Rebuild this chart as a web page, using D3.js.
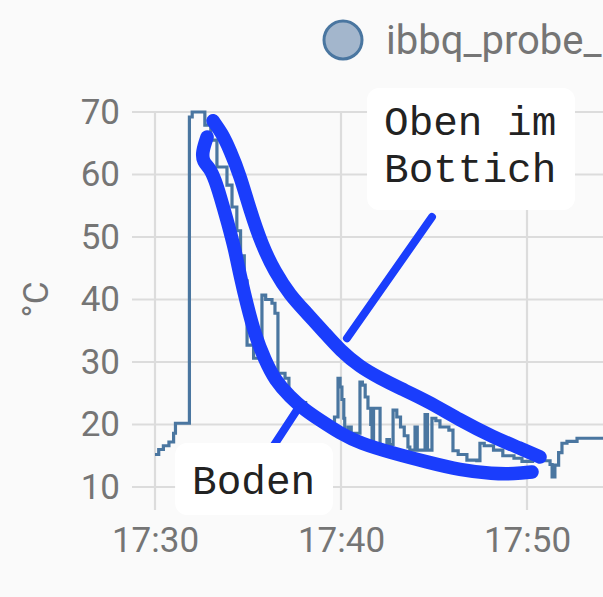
<!DOCTYPE html>
<html>
<head>
<meta charset="utf-8">
<script src="https://cdn.jsdelivr.net/npm/d3@7"></script>
<style>
  html, body { margin: 0; padding: 0; background: #fafafa; overflow: hidden; }
  svg { display: block; }
</style>
</head>
<body>
<script>
// ---------- DATA ----------
const seriesName = "ibbq_probe_";
// minutes after 17:30
const minutes = [0.0, 0.2, 0.45, 0.75, 1.0, 1.1, 1.85, 2.0, 2.68, 3.0, 3.33, 3.87, 4.14, 4.4, 4.6, 4.8, 4.95, 5.3,
  5.75, 5.95, 6.29, 6.45, 6.61, 6.99, 7.2, 7.6, 8.1, 8.6, 9.0, 9.41, 9.65, 9.84, 9.95, 10.05, 10.15, 10.2, 10.38, 10.55,
  11.02, 11.15, 11.3, 11.45, 11.6, 11.67, 11.75, 12.1, 12.47, 12.6, 12.8, 13.0, 13.2, 13.4, 13.6, 13.7, 13.98, 14.1,
  14.52, 14.65, 14.89, 15.1, 15.32, 15.8, 16.02, 16.3, 16.77, 17.3, 17.47, 17.7, 18.2, 18.7, 19.3, 19.73, 20.3, 20.7,
  21.24, 21.35, 21.5, 21.7, 21.88, 22.15, 22.69, 24.5];
const temps = [15.2, 16.0, 16.6, 17.2, 18.6, 20.2, 69.2, 70.0, 67.9, 65.5, 61.2, 58.3, 54.8, 51.0, 47.0, 43.0, 32.7, 30.6,
  40.7, 40.0, 39.4, 37.8, 28.2, 27.4, 24.4, 23.5, 22.0, 21.0, 20.2, 19.6, 21.2, 27.4, 26.0, 24.0, 21.0, 18.6, 19.6, 18.6,
  26.8, 26.3, 24.4, 22.6, 20.0, 17.0, 22.6, 16.4, 17.6, 16.8, 22.3, 21.2, 19.6, 18.2, 16.4, 15.9, 19.6, 15.9,
  21.6, 15.9, 21.0, 20.6, 19.6, 19.1, 15.8, 15.2, 14.3, 14.2, 17.0, 16.6, 15.9, 15.0, 14.6, 14.1, 14.3, 14.2,
  13.6, 11.6, 13.5, 15.5, 17.0, 17.3, 17.8, 17.8];
const yTicks = [10, 20, 30, 40, 50, 60, 70];
const xTickMinutes = [0, 10, 20];
const yLabel = "°C";

// hand-drawn annotation strokes (minutes, °C)
const strokeTopM = [3.12, 3.60, 4.03, 4.57, 5.11, 5.75, 6.45, 7.26, 8.17, 9.14, 9.95, 11.02, 12.10, 13.17, 14.62, 16.40, 18.17, 19.62, 20.70];
const strokeTopT = [68.6, 66.6, 63.9, 59.9, 54.3, 48.7, 44.4, 40.7, 37.8, 34.6, 31.9, 29.2, 27.4, 25.8, 23.8, 20.7, 18.0, 16.2, 14.8];
const strokeBotM = [2.80, 2.53, 2.58, 2.96, 3.23, 3.49, 3.92, 4.30, 4.57, 4.95, 5.38, 5.91, 6.45, 7.26, 8.06, 8.87, 9.95, 11.02, 12.80, 14.62, 16.40, 18.17, 19.35, 20.27];
const strokeBotT = [66.0, 63.6, 62.0, 61.0, 59.1, 56.7, 52.2, 47.9, 43.9, 39.1, 34.3, 30.3, 27.1, 24.4, 22.3, 20.7, 18.6, 17.0, 15.4, 14.0, 12.7, 12.1, 12.1, 12.4];
const pointerTopM = [14.89, 10.32];
const pointerTopT = [53.2, 33.8];
const pointerBotM = [7.63, 6.29];
const pointerBotT = [22.3, 16.2];
// annotation labels: box corners in (minutes, °C)
const labelTopLines = ["Oben im", "Bottich"];
const labelTopBox = [11.40, 22.58, 73.84, 54.32];
const labelBotLines = ["Boden"];
const labelBotBox = [1.08, 9.57, 17.04, 5.52];

// ---------- LAYOUT ----------
const W = 603, H = 597;
const plotLeft = 155, plotTop = 112, plotBottom = 487;
const pxPerTenMin = 186;
const baseTime = new Date(2021, 0, 1, 17, 30, 0);
const toDate = m => new Date(baseTime.getTime() + m * 60000);

const x = d3.scaleTime()
  .domain([toDate(0), toDate(10)])
  .range([plotLeft, plotLeft + pxPerTenMin]);
const y = d3.scaleLinear().domain([10, 70]).range([plotBottom, plotTop]);

const svg = d3.select("body").append("svg").attr("width", W).attr("height", H);
svg.append("rect").attr("width", W).attr("height", H).attr("fill", "#fafafa");

const gridColor = "#dcdcdc";
const textColor = "#757575";
const font = "Roboto, 'Noto Sans', sans-serif";

// gridlines
svg.append("g").selectAll("line").data(yTicks).join("line")
  .attr("x1", plotLeft - 23).attr("x2", W)
  .attr("y1", d => y(d)).attr("y2", d => y(d))
  .attr("stroke", gridColor).attr("stroke-width", 2.2);
svg.append("g").selectAll("line").data(xTickMinutes).join("line")
  .attr("x1", d => x(toDate(d))).attr("x2", d => x(toDate(d)))
  .attr("y1", plotTop).attr("y2", plotBottom + 23)
  .attr("stroke", gridColor).attr("stroke-width", 2.2);

// axes (labels)
const yAxis = svg.append("g").attr("transform", `translate(${plotLeft},0)`)
  .call(d3.axisLeft(y).tickValues(yTicks).tickSize(0).tickPadding(35));
yAxis.select(".domain").remove();
yAxis.selectAll("text").attr("font-family", font).attr("font-size", 35).attr("fill", textColor);

const xAxis = svg.append("g").attr("transform", `translate(0,${plotBottom})`)
  .call(d3.axisBottom(x).tickValues(xTickMinutes.map(toDate)).tickFormat(d3.timeFormat("%H:%M")).tickSize(0).tickPadding(40));
xAxis.select(".domain").remove();
xAxis.selectAll("text").attr("font-family", font).attr("font-size", 35).attr("fill", textColor);

svg.append("text")
  .attr("transform", `translate(48,${y(40)}) rotate(-90)`)
  .attr("text-anchor", "middle")
  .attr("font-family", font).attr("font-size", 35).attr("fill", textColor)
  .text(yLabel);

// legend
svg.append("circle").attr("cx", 343).attr("cy", 40).attr("r", 19)
  .attr("fill", "#a3b6cc").attr("stroke", "#4a76a0").attr("stroke-width", 3);
svg.append("text").attr("x", 386).attr("y", 54)
  .attr("font-family", font).attr("font-size", 40).attr("fill", textColor)
  .text(seriesName);

// data line
const data = minutes.map((m, i) => ({ t: toDate(m), v: temps[i] }));
svg.append("path").datum(data)
  .attr("fill", "none").attr("stroke", "#4a76a0").attr("stroke-width", 3.2)
  .attr("stroke-linejoin", "miter")
  .attr("d", d3.line().x(d => x(d.t)).y(d => y(d.v)).curve(d3.curveStepAfter));

// annotation strokes
const penColor = "#1a3dfc";
function pts(ms, ts) { return ms.map((m, i) => [x(toDate(m)), y(ts[i])]); }
const smooth = d3.line().curve(d3.curveBasis);
svg.append("path").attr("d", smooth(pts(strokeTopM, strokeTopT)))
  .attr("fill", "none").attr("stroke", penColor).attr("stroke-width", 13.5)
  .attr("stroke-linecap", "round").attr("stroke-linejoin", "round");
svg.append("path").attr("d", smooth(pts(strokeBotM, strokeBotT)))
  .attr("fill", "none").attr("stroke", penColor).attr("stroke-width", 13.5)
  .attr("stroke-linecap", "round").attr("stroke-linejoin", "round");
svg.append("path").attr("d", d3.line()(pts(pointerTopM, pointerTopT)))
  .attr("fill", "none").attr("stroke", penColor).attr("stroke-width", 8)
  .attr("stroke-linecap", "round");
svg.append("path").attr("d", d3.line()(pts(pointerBotM, pointerBotT)))
  .attr("fill", "none").attr("stroke", penColor).attr("stroke-width", 8)
  .attr("stroke-linecap", "round");

// label boxes
function labelBox(box, lines, firstBase) {
  const x0 = x(toDate(box[0])), x1 = x(toDate(box[1]));
  const y0 = y(box[2]), y1 = y(box[3]);
  const g = svg.append("g");
  g.append("rect").attr("x", x0).attr("y", y0).attr("width", x1 - x0).attr("height", y1 - y0)
    .attr("rx", 12).attr("fill", "#ffffff");
  g.selectAll("text").data(lines).join("text")
    .attr("x", x0 + 17).attr("y", (d, i) => y0 + firstBase + i * 47)
    .attr("font-family", "'Liberation Mono', 'Courier New', monospace")
    .attr("font-size", 41).attr("fill", "#222222")
    .style("white-space", "pre")
    .text(d => d);
}
labelBox(labelTopBox, labelTopLines, 47);
labelBox(labelBotBox, labelBotLines, 51);
</script>
</body>
</html>
